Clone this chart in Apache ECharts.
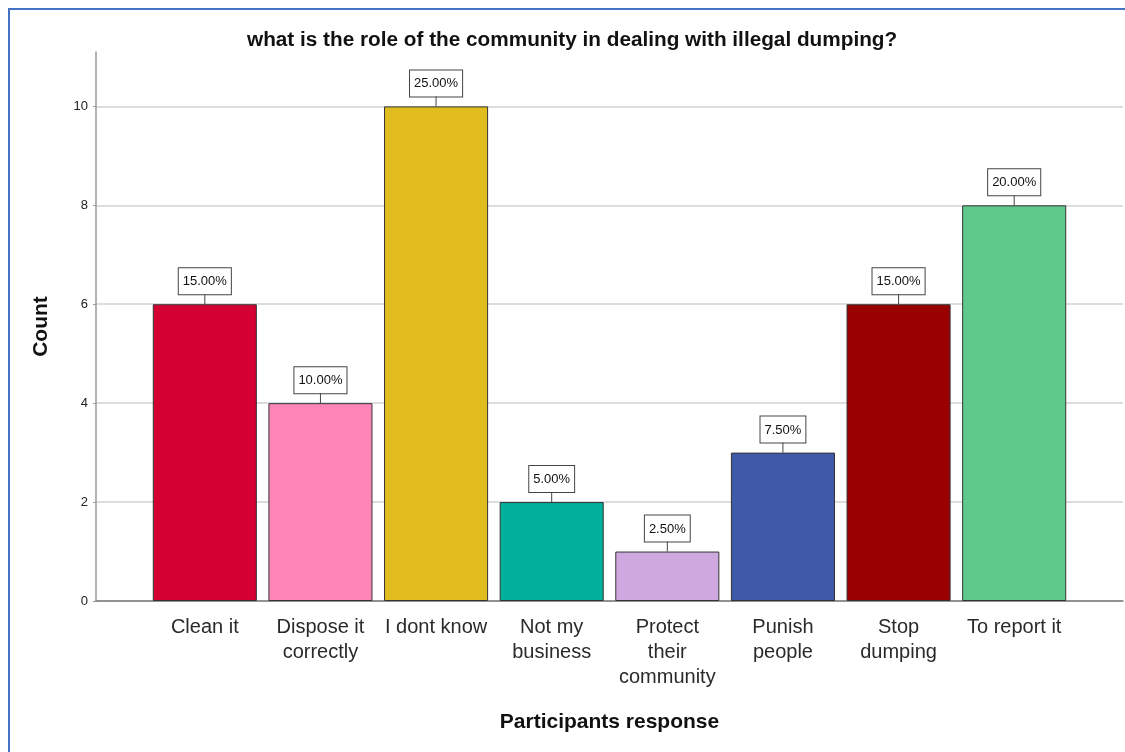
<!DOCTYPE html>
<html>
<head>
<meta charset="utf-8">
<title>Role of the community in dealing with illegal dumping</title>
<script src="https://cdn.jsdelivr.net/npm/echarts@6/dist/echarts.min.js"></script>
<style>
  html, body { margin: 0; padding: 0; background: #ffffff; }
  #chart { width: 1125px; height: 752px; }
</style>
</head>
<body>
<div id="chart"></div>
<script>
// Survey answers and how many participants gave each one
const categories = ['Clean it', 'Dispose it\ncorrectly', 'I dont know', 'Not my\nbusiness', 'Protect\ntheir\ncommunity', 'Punish\npeople', 'Stop\ndumping', 'To report it'];
const counts = [6, 4, 10, 2, 1, 3, 6, 8];
const barColors = ['#d40032', '#ff85b8', '#e0bc1f', '#00b09a', '#d0a8e0', '#3f5aa8', '#990000', '#5ec98a'];
const yTicks = [0, 2, 4, 6, 8, 10];

const total = counts.reduce((a, b) => a + b, 0);
const pct = v => (v / total * 100).toFixed(2) + '%';

const FONT = '"Liberation Sans", Arial, sans-serif';
const LABEL_GAP = 10;
const Y_MAX = 11.1;

const chart = echarts.init(document.getElementById('chart'));

chart.setOption({
  animation: false,
  backgroundColor: '#ffffff',
  textStyle: { fontFamily: FONT },
  title: {
    text: 'what is the role of the community in dealing with illegal dumping?',
    left: 242,
    top: 25,
    textStyle: { fontFamily: FONT, fontSize: 20.75, fontWeight: 'bold', color: '#111' }
  },
  graphic: [{
    type: 'rect',
    shape: { x: 9, y: 9, width: 1130, height: 760 },
    style: { fill: 'none', stroke: '#4472c4', lineWidth: 2 },
    silent: true
  }],
  grid: [
    // frame: value axis, grid lines and baseline across the full width
    { left: 96, right: 2, top: 52, bottom: 151 },
    // bars: narrower band inside the frame
    { left: 147, width: 925, top: 52, bottom: 151 }
  ],
  xAxis: [
    {
      gridIndex: 0, type: 'category', data: [''],
      axisLine: { show: true, lineStyle: { color: '#7a7a7a', width: 1.5 } },
      axisTick: { show: false }, axisLabel: { show: false }
    },
    {
      gridIndex: 1, type: 'category', data: categories,
      axisLine: { show: false }, axisTick: { show: false },
      axisLabel: {
        interval: 0, margin: 14,
        fontFamily: FONT, fontSize: 20, lineHeight: 25, color: '#2a2a2a'
      },
      name: 'Participants response',
      nameLocation: 'middle', nameGap: 111,
      nameTextStyle: { fontFamily: FONT, fontSize: 21, fontWeight: 'bold', color: '#111' }
    }
  ],
  yAxis: [
    {
      gridIndex: 0, type: 'value', min: 0, max: Y_MAX, interval: 2,
      axisLine: { show: true, lineStyle: { color: '#9a9a9a', width: 1.5 } },
      axisTick: { show: true, length: 3, customValues: yTicks, lineStyle: { color: '#9a9a9a' } },
      axisLabel: {
        margin: 8, fontFamily: FONT, fontSize: 13, color: '#222',
        customValues: yTicks
      },
      splitLine: { show: true, lineStyle: { color: '#d2d2d2', width: 1.5 } },
      name: 'Count', nameLocation: 'middle', nameGap: 44, nameRotate: 90,
      nameTextStyle: { fontFamily: FONT, fontSize: 21, fontWeight: 'bold', color: '#111' }
    },
    {
      gridIndex: 1, type: 'value', min: 0, max: Y_MAX, interval: 2,
      show: false, splitLine: { show: false }
    }
  ],
  series: [
    {
      type: 'bar',
      xAxisIndex: 1, yAxisIndex: 1,
      barCategoryGap: '10%',
      data: counts.map((v, i) => ({
        value: v,
        itemStyle: { color: barColors[i] }
      })),
      itemStyle: { borderColor: '#333', borderWidth: 1 },
      label: {
        show: true, position: 'top', distance: LABEL_GAP,
        formatter: p => pct(p.value),
        fontFamily: FONT, fontSize: 13, color: '#111',
        backgroundColor: '#ffffff', borderColor: '#444', borderWidth: 1,
        padding: [7, 4, 6, 4]
      },
      z: 3
    },
    {
      // short leader line from each bar top to its percentage box
      type: 'custom',
      xAxisIndex: 1, yAxisIndex: 1,
      data: counts.map((v, i) => [i, v]),
      renderItem: (params, api) => {
        const p = api.coord([api.value(0), api.value(1)]);
        return {
          type: 'line',
          shape: { x1: p[0], y1: p[1], x2: p[0], y2: p[1] - LABEL_GAP },
          style: { stroke: '#444', lineWidth: 1 }
        };
      },
      silent: true,
      z: 4
    }
  ]
});
</script>
</body>
</html>
